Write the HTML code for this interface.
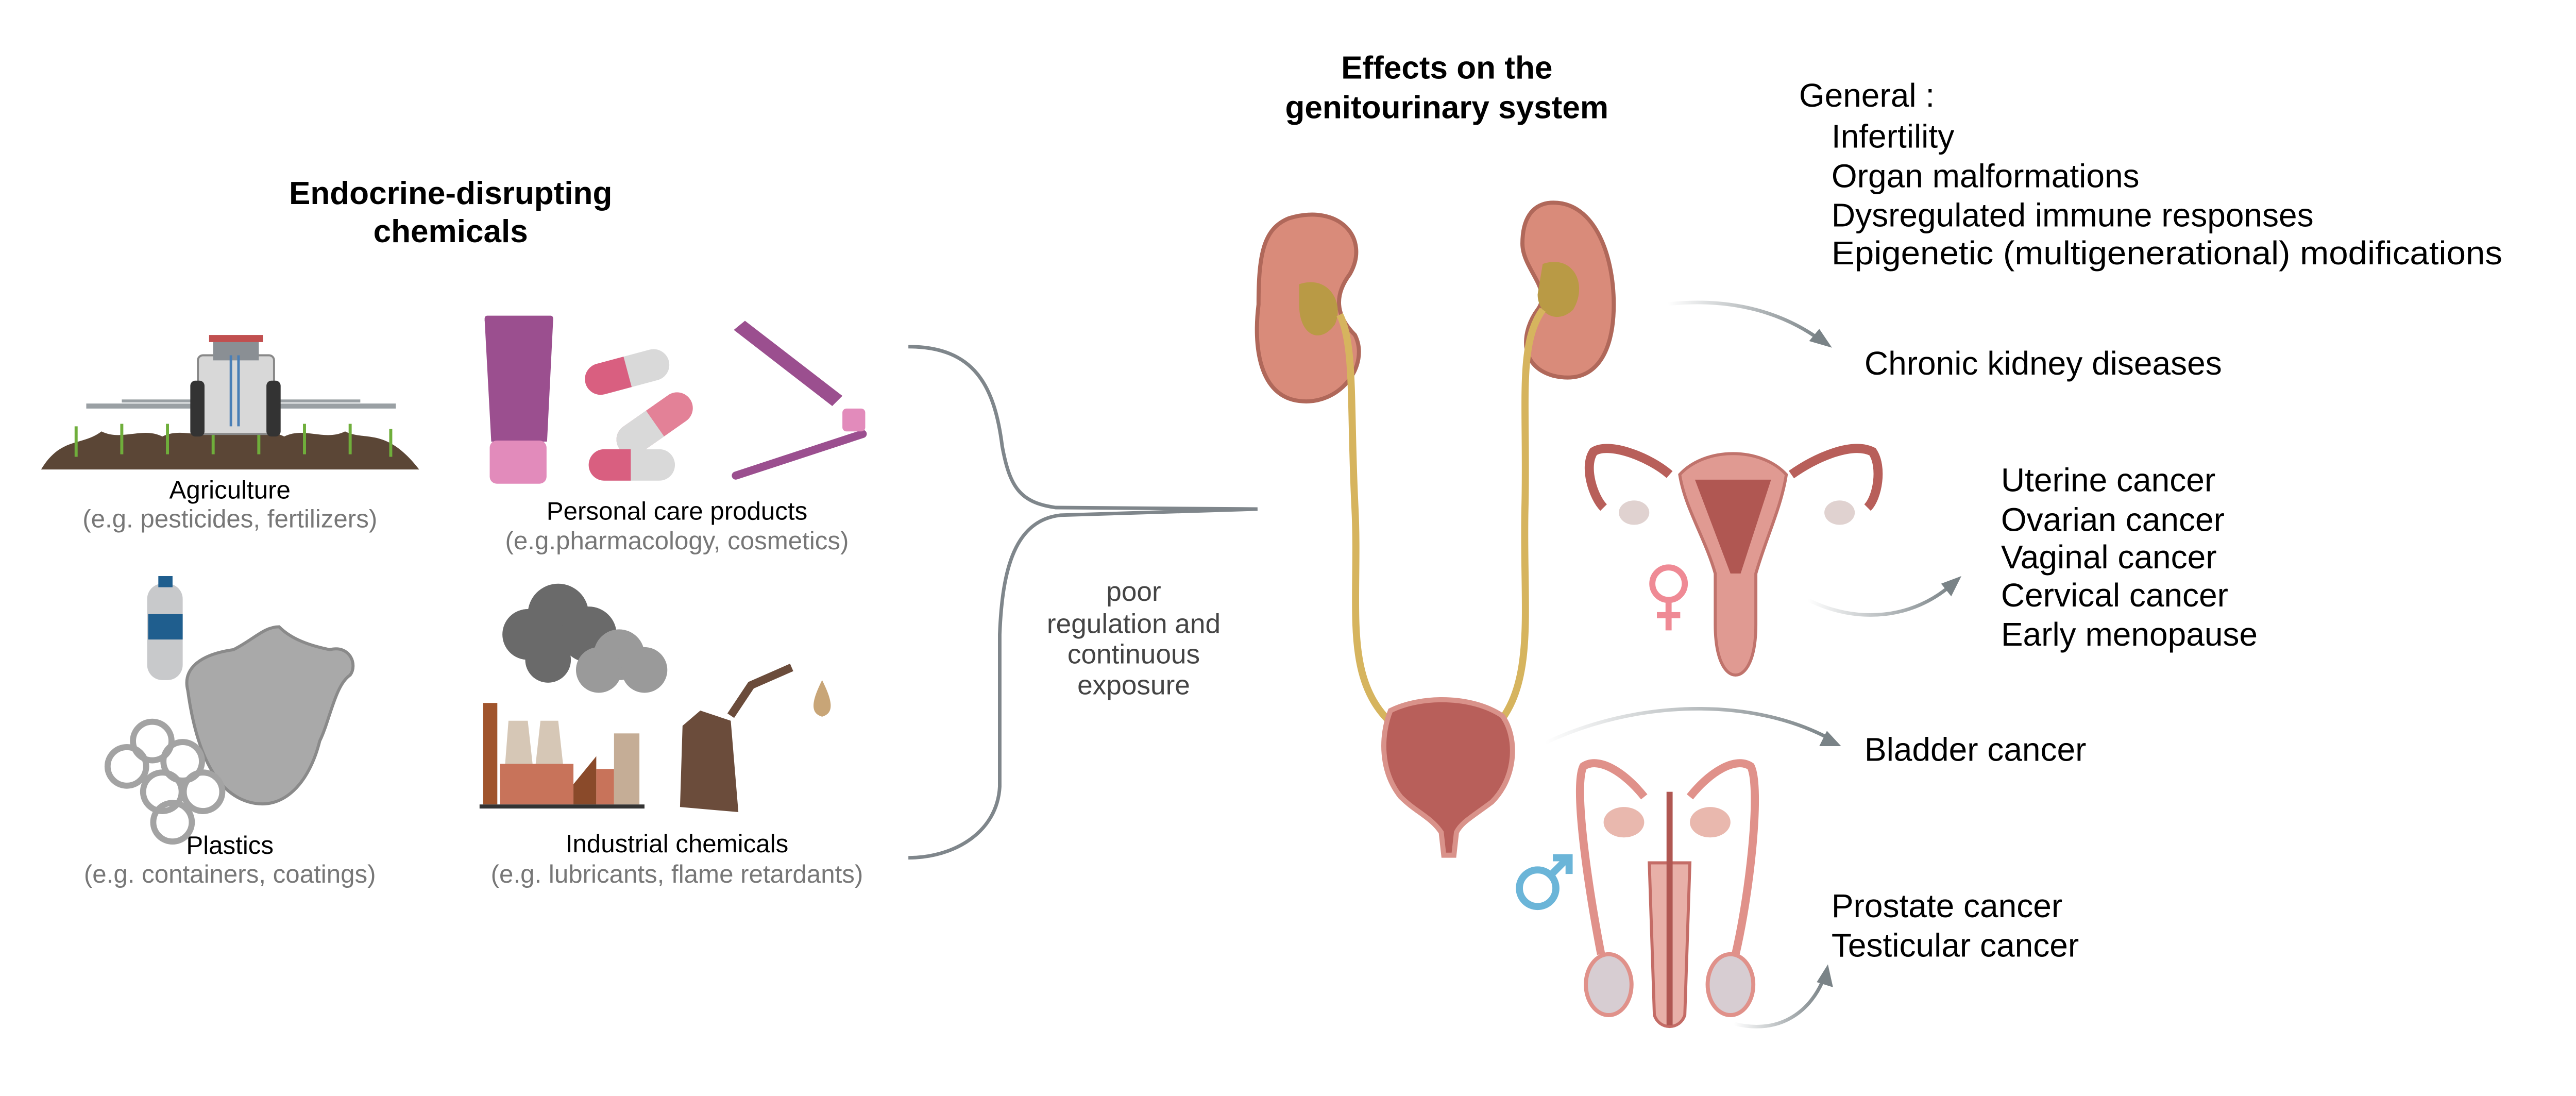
<!DOCTYPE html>
<html><head><meta charset="utf-8"><style>
html,body{margin:0;padding:0;background:#fff;}
svg{display:block;}
text{font-family:"Liberation Sans",sans-serif;}
</style></head><body>
<svg width="5025" height="2127" viewBox="0 0 5025 2127" xmlns="http://www.w3.org/2000/svg">
<defs>
<linearGradient id="ag" x1="0" x2="1"><stop offset="0" stop-color="#fff"/><stop offset="1" stop-color="#7a8387"/></linearGradient>
</defs>
<g transform="scale(0.985)">
<!-- Titles -->
<text x="888" y="402" font-size="63" font-weight="bold" text-anchor="middle">Endocrine-disrupting</text>
<text x="888" y="477" font-size="63" font-weight="bold" text-anchor="middle">chemicals</text>
<text x="2851" y="155" font-size="63" font-weight="bold" text-anchor="middle">Effects on the</text>
<text x="2851" y="233" font-size="63" font-weight="bold" text-anchor="middle">genitourinary system</text>

<!-- Left labels -->
<g font-size="50" text-anchor="middle">
<text x="453" y="982">Agriculture</text>
<text x="453" y="1039" fill="#777">(e.g. pesticides, fertilizers)</text>
<text x="1334" y="1024">Personal care products</text>
<text x="1334" y="1082" fill="#777">(e.g.pharmacology, cosmetics)</text>
<text x="453" y="1682">Plastics</text>
<text x="453" y="1739" fill="#777">(e.g. containers, coatings)</text>
<text x="1334" y="1679">Industrial chemicals</text>
<text x="1334" y="1739" fill="#777">(e.g. lubricants, flame retardants)</text>
</g>
<g font-size="54" text-anchor="middle" fill="#444">
<text x="2234" y="1184">poor</text>
<text x="2234" y="1247">regulation and</text>
<text x="2234" y="1307">continuous</text>
<text x="2234" y="1368">exposure</text>
</g>

<!-- Brace -->
<path d="M1790,683 C1920,683 1960,760 1975,880 C1990,960 2010,990 2080,1000 L2478,1003 L2090,1015 C2000,1025 1975,1120 1970,1250 L1970,1550 C1965,1640 1880,1690 1790,1690" fill="none" stroke="#7f868b" stroke-width="7"/>

<!-- Right text -->
<g font-size="65">
<text x="3545" y="210">General :</text>
<text x="3609" y="291">Infertility</text>
<text x="3609" y="369">Organ malformations</text>
<text x="3609" y="446">Dysregulated immune responses</text>
<text x="3609" y="521" textLength="1322" lengthAdjust="spacingAndGlyphs">Epigenetic (multigenerational) modifications</text>
<text x="3674" y="738">Chronic kidney diseases</text>
<text x="3943" y="968">Uterine cancer</text>
<text x="3943" y="1046">Ovarian cancer</text>
<text x="3943" y="1120">Vaginal cancer</text>
<text x="3943" y="1195">Cervical cancer</text>
<text x="3943" y="1272">Early menopause</text>
<text x="3674" y="1499">Bladder cancer</text>
<text x="3609" y="1807">Prostate cancer</text>
<text x="3609" y="1885">Testicular cancer</text>
</g>

<!-- Arrows -->
<g fill="none" stroke="url(#ag)" stroke-width="7">
<path d="M3287,599 C3420,585 3520,620 3590,672"/>
<path d="M3563,1182 C3660,1230 3770,1220 3848,1150"/>
<path d="M3045,1464 C3220,1380 3450,1370 3610,1458"/>
<path d="M3417,2017 C3510,2040 3570,1990 3595,1925"/>
</g>
<g fill="#7a8387">
<polygon points="3610,685 3565,672 3585,648"/>
<polygon points="3865,1135 3845,1175 3825,1150"/>
<polygon points="3628,1470 3585,1470 3600,1440"/>
<polygon points="3602,1900 3612,1945 3580,1935"/>
</g>

<!-- Agriculture icon -->
<path d="M81,925 C120,860 160,880 200,850 C240,870 280,840 320,860 C360,840 400,870 440,845 C480,870 520,840 560,860 C600,840 640,870 680,850 C720,870 760,840 826,925 Z" fill="#5b4636"/>
<g stroke="#6fae3b" stroke-width="6">
<path d="M150,900 l0,-60 M240,895 l0,-60 M330,895 l0,-60 M420,895 l0,-60 M510,895 l0,-60 M600,895 l0,-60 M690,895 l0,-60 M770,900 l0,-55"/>
</g>
<line x1="170" y1="800" x2="780" y2="800" stroke="#9aa0a4" stroke-width="10"/>
<line x1="240" y1="790" x2="710" y2="790" stroke="#9aa0a4" stroke-width="6"/>
<rect x="390" y="700" width="150" height="155" rx="10" fill="#d8d8d8" stroke="#888" stroke-width="4"/>
<rect x="420" y="670" width="90" height="40" fill="#8a8f94"/>
<rect x="412" y="660" width="106" height="14" fill="#c14f4f"/>
<rect x="375" y="750" width="28" height="110" rx="10" fill="#333"/>
<rect x="525" y="750" width="28" height="110" rx="10" fill="#333"/>
<path d="M455,700 v140 M470,700 v140" stroke="#4a7fb6" stroke-width="5"/>

<!-- Personal care -->
<path d="M955,630 h135 l-12,240 h-110 z" fill="#9b4f8f"/>
<rect x="955" y="622" width="135" height="14" rx="5" fill="#9b4f8f"/>
<rect x="965" y="868" width="112" height="85" rx="14" fill="#e28bbb"/>
<g transform="rotate(-15 1235 730)"><rect x="1150" y="702" width="170" height="62" rx="31" fill="#d9d9d9"/><path d="M1181,702 h55 v62 h-55 a31,31 0 0 1 0,-62z" fill="#d95f80"/></g>
<g transform="rotate(-35 1290 835)"><rect x="1205" y="804" width="170" height="62" rx="31" fill="#e38197"/><path d="M1236,804 h55 v62 h-55 a31,31 0 0 1 0,-62z" fill="#d9d9d9"/></g>
<rect x="1160" y="885" width="170" height="62" rx="31" fill="#d9d9d9"/><path d="M1191,885 h52 v62 h-52 a31,31 0 0 1 0,-62z" fill="#d95f80"/>
<polygon points="1446,650 1468,632 1660,780 1640,800" fill="#9b4f8f"/>
<line x1="1450" y1="937" x2="1700" y2="855" stroke="#9b4f8f" stroke-width="16" stroke-linecap="round"/>
<rect x="1660" y="805" width="45" height="45" rx="8" fill="#e28bbb"/>

<!-- Plastics -->
<rect x="290" y="1150" width="70" height="190" rx="30" fill="#c8c9cb"/>
<rect x="292" y="1210" width="68" height="50" fill="#1f5e8e"/>
<rect x="312" y="1135" width="28" height="22" fill="#1f5e8e"/>
<path d="M370,1360 C360,1320 390,1290 460,1280 C500,1260 520,1235 550,1235 C570,1255 600,1270 650,1280 C690,1270 705,1310 690,1330 C660,1350 650,1420 630,1460 C610,1540 560,1600 490,1580 C420,1560 385,1470 370,1360 Z" fill="#a9a9a9" stroke="#8a8a8a" stroke-width="6"/>
<g fill="none" stroke="#a3a3a3" stroke-width="12">
<circle cx="300" cy="1460" r="38"/><circle cx="360" cy="1500" r="38"/><circle cx="250" cy="1510" r="38"/><circle cx="320" cy="1560" r="38"/><circle cx="400" cy="1560" r="38"/><circle cx="340" cy="1620" r="38"/>
</g>

<!-- Industrial -->
<g fill="#6a6a6a"><circle cx="1040" cy="1250" r="50"/><circle cx="1100" cy="1210" r="60"/><circle cx="1160" cy="1250" r="55"/><circle cx="1080" cy="1300" r="45"/></g>
<g fill="#9a9a9a"><circle cx="1220" cy="1290" r="50"/><circle cx="1270" cy="1320" r="45"/><circle cx="1180" cy="1320" r="45"/></g>
<rect x="952" y="1385" width="28" height="200" fill="#a0542c"/>
<polygon points="1002,1420 1040,1420 1050,1510 995,1510" fill="#d6c7b6"/>
<polygon points="1065,1420 1100,1420 1110,1510 1055,1510" fill="#d6c7b6"/>
<rect x="985" y="1505" width="145" height="80" fill="#c8735a"/>
<polygon points="1130,1585 1130,1545 1175,1490 1175,1585" fill="#8a4a2a"/>
<rect x="1175" y="1515" width="35" height="70" fill="#c8735a"/>
<rect x="1210" y="1445" width="50" height="140" fill="#c5ad96"/>
<rect x="945" y="1585" width="325" height="8" fill="#333"/>
<path d="M1345,1430 L1380,1400 L1440,1420 L1455,1600 L1340,1590 Z" fill="#6b4c3b"/>
<path d="M1440,1410 L1480,1350 L1560,1315" stroke="#6b4c3b" stroke-width="16" fill="none"/>
<path d="M1620,1340 C1600,1380 1595,1405 1620,1412 C1645,1405 1640,1380 1620,1340 Z" fill="#c8a577"/>

<!-- Kidneys -->
<path d="M2540,430 C2640,400 2700,470 2660,540 C2630,580 2630,620 2670,660 C2700,720 2640,800 2560,790 C2480,780 2470,680 2480,600 C2480,500 2490,450 2540,430 Z" fill="#d98b7a" stroke="#b0685a" stroke-width="8"/>
<path d="M2560,560 C2620,540 2650,600 2630,640 C2600,680 2560,660 2560,600 Z" fill="#b99a45"/>
<path d="M3050,400 C3140,390 3180,500 3180,600 C3180,700 3140,760 3060,740 C2990,720 3000,650 3030,610 C3060,570 3000,530 3000,480 C3000,430 3020,405 3050,400 Z" fill="#d98b7a" stroke="#b0685a" stroke-width="8"/>
<path d="M3040,520 C3100,500 3130,560 3100,610 C3070,640 3030,620 3030,580 Z" fill="#b99a45"/>
<g fill="none" stroke="#d6b45e" stroke-width="14">
<path d="M2640,620 C2670,680 2660,800 2670,1000 C2680,1200 2640,1350 2760,1440"/>
<path d="M3040,610 C2990,680 3010,800 3005,1000 C3000,1200 3030,1350 2940,1440"/>
</g>
<path d="M2740,1400 C2800,1370 2900,1370 2960,1410 C2990,1450 2990,1530 2940,1580 C2900,1610 2880,1620 2870,1640 L2865,1685 L2845,1685 L2840,1640 C2820,1610 2790,1600 2760,1570 C2720,1520 2720,1450 2740,1400 Z" fill="#b85f5a" stroke="#d9928a" stroke-width="10"/>

<!-- Uterus -->
<g fill="none" stroke="#b85f5a" stroke-width="18">
<path d="M3290,935 C3250,900 3170,870 3140,890 C3120,920 3140,980 3160,1000"/>
<path d="M3530,935 C3580,900 3650,870 3690,890 C3710,920 3700,980 3680,1000"/>
</g>
<ellipse cx="3220" cy="1010" rx="30" ry="24" fill="#e0d2d0"/>
<ellipse cx="3625" cy="1010" rx="30" ry="24" fill="#e0d2d0"/>
<path d="M3310,935 C3360,880 3470,880 3520,935 C3510,1000 3480,1060 3460,1130 L3460,1230 C3460,1300 3440,1330 3420,1330 C3400,1330 3380,1300 3380,1230 L3380,1130 C3360,1060 3320,1000 3310,935 Z" fill="#e09a92" stroke="#c0736c" stroke-width="6"/>
<path d="M3340,945 L3490,945 L3430,1130 L3410,1130 Z" fill="#b05752"/>
<g fill="none" stroke="#ef8a95" stroke-width="12"><circle cx="3288" cy="1150" r="32"/><path d="M3288,1182 v60 M3265,1212 h46"/></g>

<!-- Male -->
<g fill="none" stroke="#e0918a" stroke-width="16">
<path d="M3155,1880 C3130,1750 3100,1550 3120,1510 C3150,1490 3200,1520 3240,1570"/>
<path d="M3420,1880 C3450,1750 3470,1550 3450,1510 C3420,1490 3370,1520 3330,1570"/>
</g>
<ellipse cx="3200" cy="1620" rx="40" ry="30" fill="#e9b8ae"/>
<ellipse cx="3370" cy="1620" rx="40" ry="30" fill="#e9b8ae"/>
<path d="M3250,1700 h80 l-10,300 c-10,30 -50,30 -60,0 z" fill="#e8b0a8" stroke="#c46c66" stroke-width="6"/>
<line x1="3290" y1="1560" x2="3290" y2="2020" stroke="#b05752" stroke-width="12"/>
<ellipse cx="3170" cy="1940" rx="45" ry="60" fill="#d7cdd2" stroke="#e0918a" stroke-width="8"/>
<ellipse cx="3410" cy="1940" rx="45" ry="60" fill="#d7cdd2" stroke="#e0918a" stroke-width="8"/>
<g fill="none" stroke="#6bb5d8" stroke-width="14"><circle cx="3030" cy="1750" r="36"/><path d="M3056,1724 L3090,1690 M3060,1690 h32 v32"/></g>
</g>
</svg>
</body></html>
